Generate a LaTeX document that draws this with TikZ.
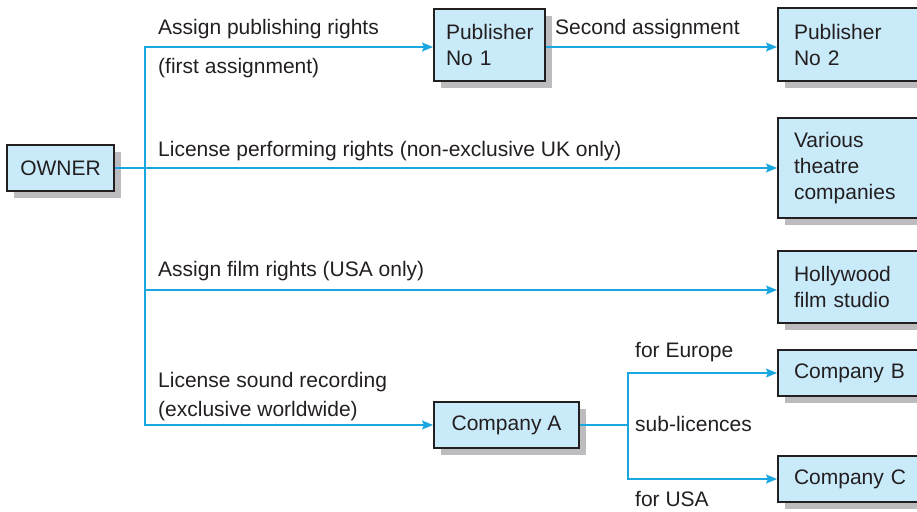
\documentclass[tikz,border=0pt]{standalone}
\usepackage{fontspec}
\setmainfont{Liberation Sans}
\usepackage{tikz}
\usetikzlibrary{arrows.meta,shadows,positioning,calc}

\definecolor{boxfill}{HTML}{C9EAF9}
\definecolor{boxline}{HTML}{231F20}
\definecolor{shadowgray}{HTML}{BCBCBE}
\definecolor{linkblue}{HTML}{1AA6DF}
\definecolor{textdark}{HTML}{231F20}

\tikzset{
  box/.style={draw=boxline, line width=2pt, fill=boxfill, anchor=north west,
    inner ysep=0pt, text=textdark, align=left,
    drop shadow={shadow xshift=7pt, shadow yshift=-7pt, fill=shadowgray, opacity=1}},
  leftbox/.style={box, inner xsep=16pt, text width=130pt},
  link/.style={draw=linkblue, line width=1.5pt},
  arr/.style={link, -{Stealth[length=11pt, width=9pt, inset=2pt]}},
  lbl/.style={anchor=base west, inner sep=0pt, text=textdark, align=left}
}

\begin{document}
\begin{tikzpicture}[x=1pt, y=-1pt, font=\fontsize{21}{26}\selectfont]
  \clip (0,0) rectangle (917,511);
  \useasboundingbox (0,0) rectangle (917,511);

  % Boxes
  \node[box, align=center, minimum width=107pt, minimum height=46pt] (owner) at (6,144) {OWNER};
  \node[box, inner xsep=12pt, text width=87pt, minimum height=72pt] (pub1) at (433,8) {Publisher\\No 1};
  \node[leftbox, minimum height=73pt] (pub2) at (777,7) {Publisher\\No 2};
  \node[leftbox, minimum height=100pt] (theatre) at (777,117) {Various\\theatre\\companies};
  \node[leftbox, minimum height=72pt] (hollywood) at (777,250) {Hollywood\\film studio};
  \node[box, align=center, minimum width=145pt, minimum height=46pt] (compA) at (433,401) {Company A};
  \node[leftbox, minimum height=46pt] (compB) at (777,349) {Company B};
  \node[leftbox, minimum height=46pt] (compC) at (777,455) {Company C};

  % Connectors
  \coordinate (trunk) at ($(owner.east)+(30,0)$);
  \coordinate (fork) at ($(compA.east)+(48,0)$);
  \draw[arr] (owner.east) -- (theatre.west);
  \draw[arr] (trunk) |- ([yshift=-2pt]pub1.west);
  \draw[arr] (trunk) |- ([yshift=-3pt]hollywood.west);
  \draw[arr] (trunk) |- (compA.west);
  \draw[arr] ([yshift=-2pt]pub1.east) -- ([yshift=-2pt]pub1.east -| pub2.west);
  \draw[link] (compA.east) -- (fork);
  \draw[arr] (fork) |- (compB.west);
  \draw[arr] (fork) |- (compC.west);

  % Labels
  \node[lbl] (lpub) at (158,35) {Assign publishing rights};
  \node[lbl] (lfirst) at (158,73) {(first assignment)};
  \node[lbl] (lsecond) at (555,35) {Second assignment};
  \node[lbl] (lperf) at (158,156) {License performing rights (non-exclusive UK only)};
  \node[lbl] (lfilm) at (158,276) {Assign film rights (USA only)};
  \node[lbl, font=\fontsize{21}{29}\selectfont] (lsound) at (158,416) {License sound recording\\(exclusive worldwide)};
  \node[lbl] (leurope) at (635,357) {for Europe};
  \node[lbl] (lsub) at (635,431) {sub-licences};
  \node[lbl] (lusa) at (635,506) {for USA};
\end{tikzpicture}
\end{document}
